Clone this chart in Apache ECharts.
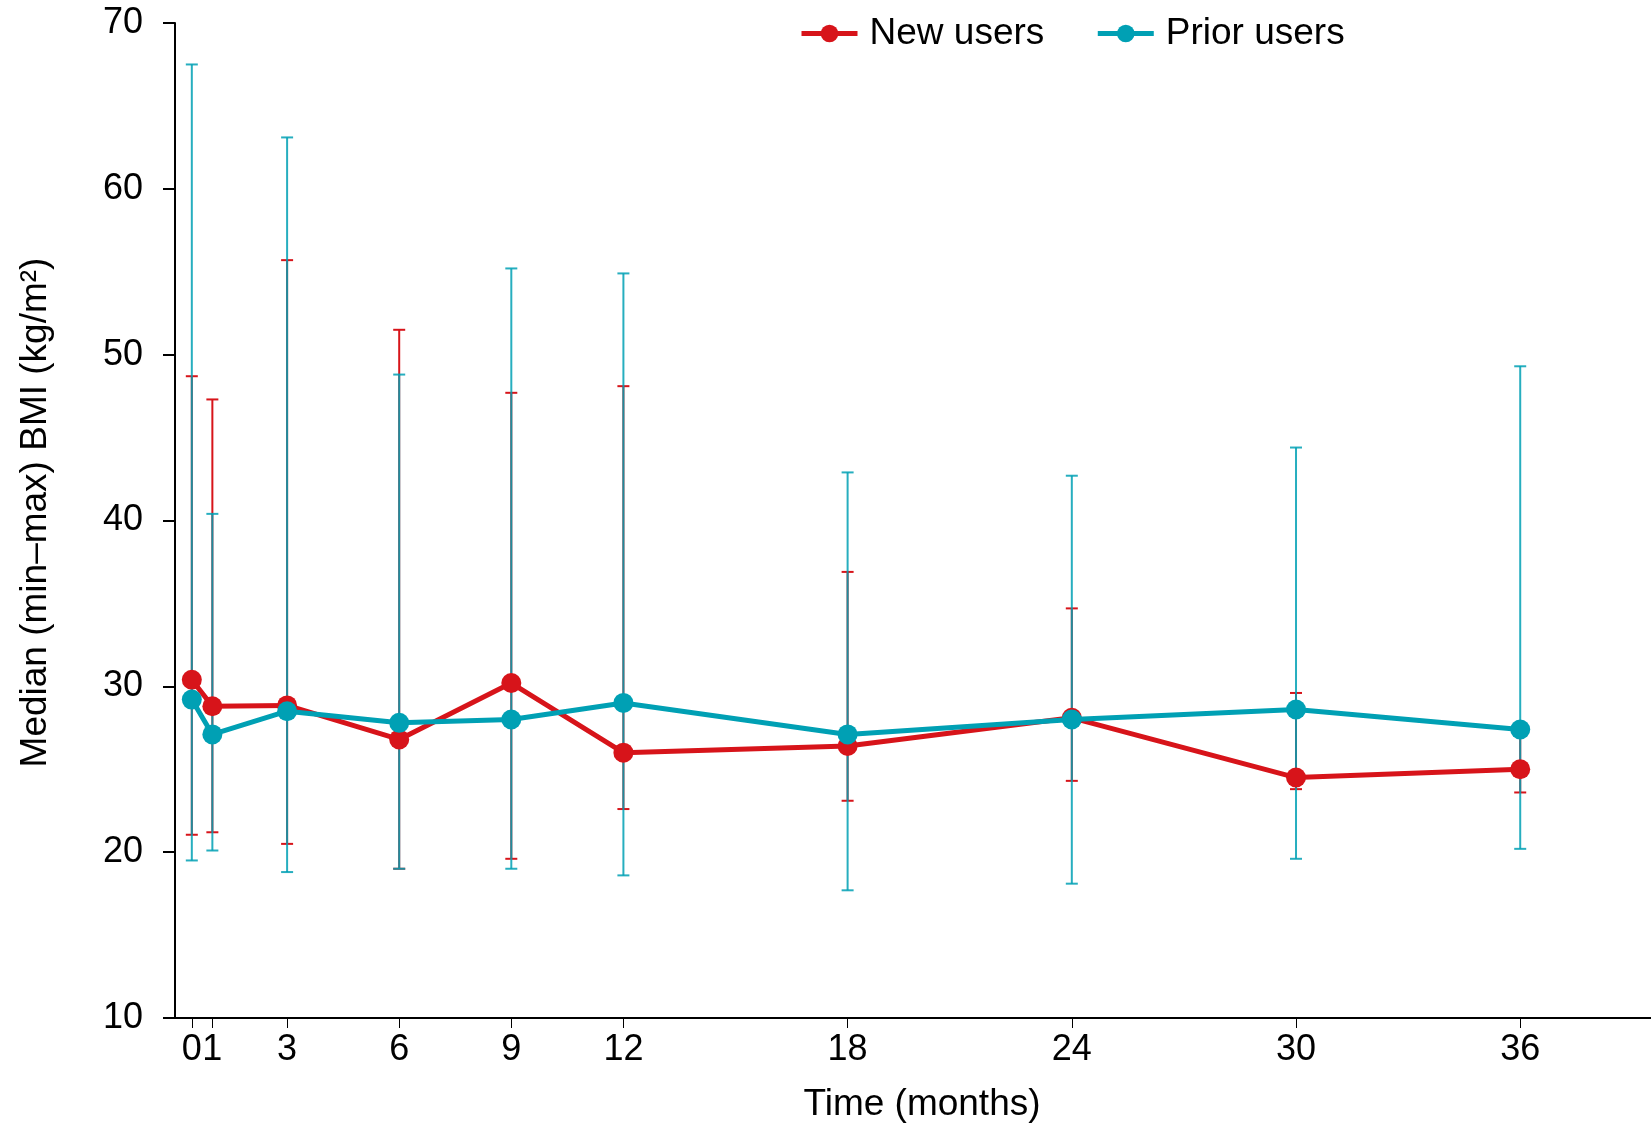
<!DOCTYPE html>
<html>
<head>
<meta charset="utf-8">
<script src="https://cdn.jsdelivr.net/npm/echarts@6/dist/echarts.min.js"></script>
<style>
  html, body { margin: 0; padding: 0; background: #fff; }
  #chart { width: 1651px; height: 1128px; }
</style>
</head>
<body>
<div id="chart"></div>
<script>
// time points (months) and where they sit on the axis (baseline drawn just right of the y axis)
const monthLabels = ['0', '1', '3', '6', '9', '12', '18', '24', '30', '36'];
const months = [0.45, 1, 3, 6, 9, 12, 18, 24, 30, 36];

// new users: median, min, max
const newMedian = [30.4, 28.8, 28.85, 26.8, 30.2, 26.0, 26.4, 28.1, 24.5, 25.0];
const newMin = [21.05, 21.2, 20.5, 19.0, 19.6, 22.6, 23.1, 24.3, 23.8, 23.6];
const newMax = [48.7, 47.3, 55.7, 51.5, 47.7, 48.1, 36.9, 34.7, 29.6, 27.3];

// prior users: median, min, max
const priorMedian = [29.2, 27.1, 28.5, 27.8, 28.0, 29.0, 27.1, 28.0, 28.6, 27.4];
const priorMin = [19.5, 20.1, 18.8, 19.0, 19.0, 18.6, 17.7, 18.1, 19.6, 20.2];
const priorMax = [67.5, 40.4, 63.1, 48.8, 55.2, 54.9, 42.9, 42.7, 44.4, 49.3];

const red = '#d7141a';
const teal = '#00a0b4';
const font = '"Liberation Sans", Arial, sans-serif';

const chart = echarts.init(document.getElementById('chart'));

function errorBar(color, opacity) {
    return function (params, api) {
        const x = api.value(0);
        const lo = api.coord([x, api.value(1)]);
        const hi = api.coord([x, api.value(2)]);
        const half = 6;
        const style = { stroke: color, lineWidth: 2, opacity: opacity };
        return {
            type: 'group',
            children: [
                { type: 'line', shape: { x1: lo[0], y1: lo[1], x2: hi[0], y2: hi[1] }, style: style },
                { type: 'line', shape: { x1: lo[0] - half, y1: lo[1], x2: lo[0] + half, y2: lo[1] }, style: style },
                { type: 'line', shape: { x1: hi[0] - half, y1: hi[1], x2: hi[0] + half, y2: hi[1] }, style: style }
            ]
        };
    };
}

const option = {
    animation: false,
    textStyle: { fontFamily: font },
    grid: { left: 175, right: 0, top: 23, bottom: 107 },
    legend: {
        left: 794,
        top: 10,
        itemWidth: 56,
        itemHeight: 22,
        itemGap: 51,
        lineStyle: { width: 5 },
        textStyle: { fontSize: 37, color: '#000', fontFamily: font, padding: [0, 0, 0, 7] },
        data: ['New users', 'Prior users']
    },
    xAxis: {
        type: 'value',
        min: 0,
        max: 39.5,
        name: 'Time (months)',
        nameLocation: 'middle',
        nameGap: 68,
        nameTextStyle: { fontSize: 37, color: '#000', fontFamily: font, padding: [0, 0, 0, 18] },
        axisLine: { onZero: false, lineStyle: { color: '#000', width: 2 } },
        axisTick: { show: true, length: 10, customValues: months, lineStyle: { color: '#000', width: 1 } },
        axisLabel: {
            customValues: months,
            fontSize: 36,
            color: '#000',
            margin: 14,
            formatter: function (v) {
                const i = months.indexOf(v);
                return i >= 0 ? monthLabels[i] : '';
            }
        },
        splitLine: { show: false }
    },
    yAxis: {
        type: 'value',
        min: 10,
        max: 70,
        interval: 10,
        name: 'Median (min\u2013max) BMI (kg/m\u00b2)',
        nameLocation: 'middle',
        nameGap: 121,
        nameTextStyle: { fontSize: 37, color: '#000', fontFamily: font, padding: [0, 0, 0, 16] },
        axisLine: { show: true, onZero: false, lineStyle: { color: '#000', width: 2 } },
        axisTick: { show: true, length: 12, lineStyle: { color: '#000', width: 2 } },
        axisLabel: { fontSize: 36, color: '#000', margin: 32 },
        splitLine: { show: false }
    },
    series: [
        {
            type: 'custom',
            renderItem: errorBar(red, 1),
            data: months.map((m, i) => [m, newMin[i], newMax[i]]),
            z: 1,
            silent: true
        },
        {
            type: 'custom',
            renderItem: errorBar(teal, 0.85),
            data: months.map((m, i) => [m, priorMin[i], priorMax[i]]),
            z: 2,
            silent: true
        },
        {
            name: 'New users',
            type: 'line',
            data: months.map((m, i) => [m, newMedian[i]]),
            symbol: 'circle',
            symbolSize: 20,
            itemStyle: { color: red },
            lineStyle: { color: red, width: 5 },
            z: 3
        },
        {
            name: 'Prior users',
            type: 'line',
            data: months.map((m, i) => [m, priorMedian[i]]),
            symbol: 'circle',
            symbolSize: 20,
            itemStyle: { color: teal },
            lineStyle: { color: teal, width: 5 },
            z: 4
        }
    ]
};

chart.setOption(option);
</script>
</body>
</html>
